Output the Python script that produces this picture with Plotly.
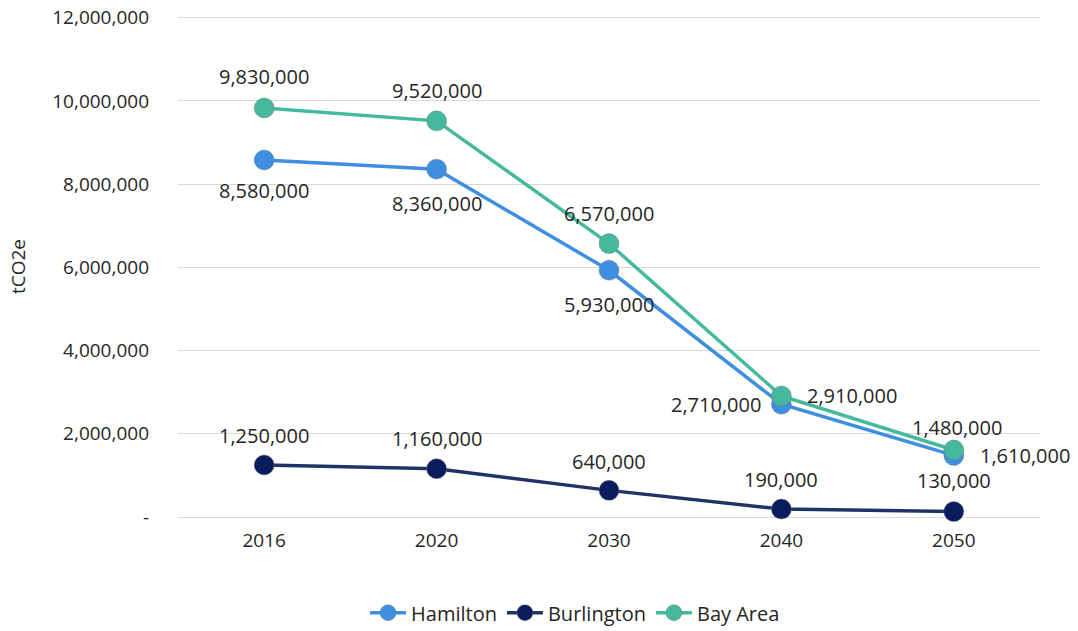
import plotly.graph_objects as go

years = ["2016", "2020", "2030", "2040", "2050"]
hamilton = [8580000, 8360000, 5930000, 2710000, 1480000]
burlington = [1250000, 1160000, 640000, 190000, 130000]
bay_area = [9830000, 9520000, 6570000, 2910000, 1610000]

y_ticks = [0, 2000000, 4000000, 6000000, 8000000, 10000000, 12000000]
y_tick_text = ["-", "2,000,000", "4,000,000", "6,000,000", "8,000,000", "10,000,000", "12,000,000"]

FONT = "Open Sans"
TXT = "#262626"

series = [
    ("Hamilton", hamilton, "#3E8FE2", "#3E8FE2"),
    ("Burlington", burlington, "#1F3466", "#0B1C5E"),
    ("Bay Area", bay_area, "#45B99D", "#45B99D"),
]

fig = go.Figure()
for name, vals, lc, mc in series:
    fig.add_trace(go.Scatter(
        x=years, y=vals, name=name, mode="lines+markers",
        line=dict(color=lc, width=3.5),
        marker=dict(color=mc, size=20, line=dict(color="rgba(120,120,120,0.45)", width=1)),
        hoverinfo="x+y", cliponaxis=False,
    ))

# label offsets (xshift, yshift) per series/point
shifts = {
    "Hamilton": [(0, -31), (0, -34), (0, -34), (-65, 0), (3, 28)],
    "Burlington": [(0, 29), (0, 30), (0, 29), (0, 30), (0, 31)],
    "Bay Area": [(0, 31), (0, 30), (0, 30), (71, 0), (71, -5)],
}
annotations = []
for name, vals, lc, mc in series:
    for i, v in enumerate(vals):
        xs, ys = shifts[name][i]
        annotations.append(dict(
            x=i, y=v, xref="x", yref="y", text=f"{v:,}", showarrow=False,
            xshift=xs, yshift=ys, font=dict(family=FONT, size=20, color=TXT),
        ))

fig.update_layout(
    width=1078, height=631,
    paper_bgcolor="white", plot_bgcolor="white",
    margin=dict(l=178, r=38, t=16, b=114, autoexpand=False),
    font=dict(family=FONT, size=19, color=TXT),
    annotations=annotations,
    showlegend=True,
    legend=dict(orientation="h", x=0.4606, xanchor="center", y=-0.191, yanchor="middle",
                font=dict(family=FONT, size=20, color=TXT), itemwidth=36,
                traceorder="normal"),
    xaxis=dict(type="category", showgrid=False, showline=False, ticks="",
               tickfont=dict(family=FONT, size=19, color=TXT), ticklabelstandoff=10,
               range=[-0.5, 4.5], automargin=False),
    yaxis=dict(range=[0, 12040000], tickvals=y_ticks, ticktext=y_tick_text,
               showgrid=True, gridcolor="#D9D9D9", gridwidth=1, zeroline=True,
               zerolinecolor="#D9D9D9", zerolinewidth=1, showline=False,
               tickfont=dict(family=FONT, size=19, color=TXT), ticklabelstandoff=28,
               ticklabeloverflow="allow", automargin=False,
               title=dict(text="tCO2e", font=dict(family=FONT, size=19, color=TXT), standoff=21)),
)

fig.write_html("out.html", config={"displayModeBar": False},
               post_script="document.body.style.margin='0';document.body.style.overflow='hidden';")
